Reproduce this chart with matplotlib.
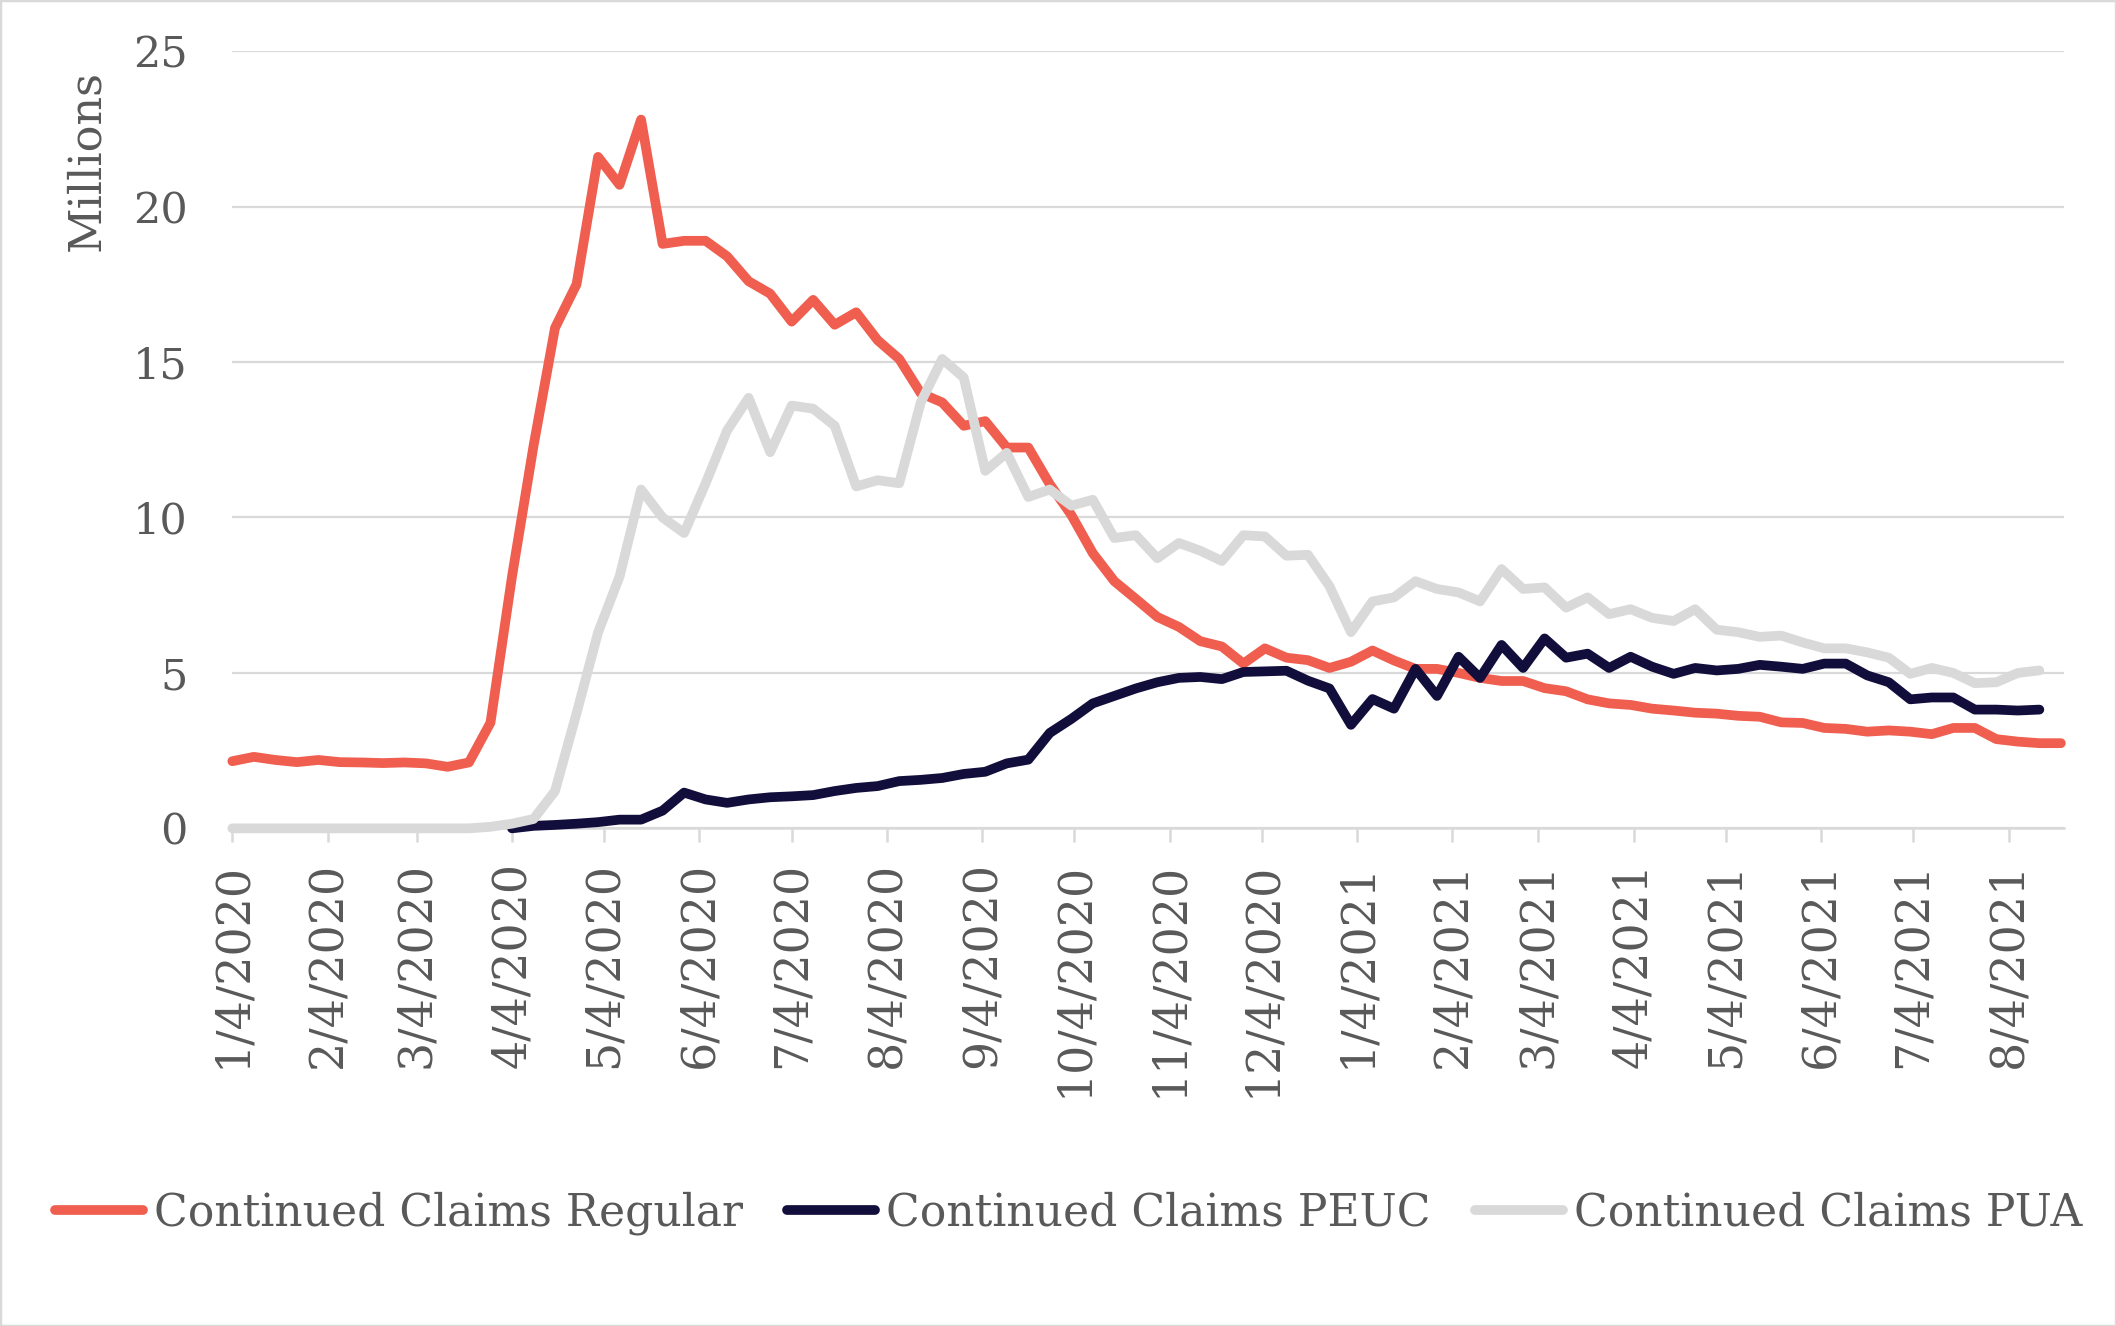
import numpy as np
import pandas as pd
import matplotlib
matplotlib.use("Agg")
import matplotlib.pyplot as plt
from matplotlib.patches import Rectangle

# ==============================
# 1. DATA (millions, weekly from 1/4/2020)
# ==============================
start_date = "2020-01-04"
n_weeks = 86

regular = [
    2.16, 2.30, 2.20, 2.13, 2.20, 2.13, 2.12, 2.10, 2.12, 2.09,
    1.98, 2.12, 3.40, 8.10, 12.30, 16.10, 17.50, 21.60, 20.70, 22.80,
    18.80, 18.90, 18.90, 18.40, 17.60, 17.20, 16.30, 17.00, 16.20, 16.60,
    15.70, 15.10, 14.00, 13.70, 12.95, 13.10, 12.25, 12.25, 11.07, 10.08,
    8.85, 7.95, 7.38, 6.80, 6.48, 6.02, 5.85, 5.30, 5.79, 5.49,
    5.41, 5.16, 5.36, 5.72, 5.40, 5.13, 5.13, 5.00, 4.84, 4.74,
    4.74, 4.51, 4.41, 4.15, 4.02, 3.97, 3.85, 3.79, 3.72, 3.69,
    3.62, 3.59, 3.41, 3.39, 3.23, 3.20, 3.11, 3.15, 3.11, 3.03,
    3.23, 3.23, 2.87, 2.79, 2.74, 2.74,
]

peuc = [np.nan] * 13 + [
    0.00, 0.08, 0.11, 0.15, 0.20, 0.28, 0.28, 0.57, 1.15, 0.93,
    0.82, 0.93, 1.00, 1.03, 1.07, 1.20, 1.30, 1.36, 1.52, 1.56,
    1.62, 1.75, 1.82, 2.09, 2.21, 3.07, 3.52, 4.02, 4.26, 4.50,
    4.70, 4.84, 4.87, 4.80, 5.03, 5.05, 5.07, 4.75, 4.50, 3.33,
    4.16, 3.85, 5.13, 4.26, 5.52, 4.84, 5.90, 5.16, 6.11, 5.49,
    5.62, 5.16, 5.52, 5.20, 4.97, 5.16, 5.08, 5.13, 5.26, 5.20,
    5.13, 5.30, 5.30, 4.92, 4.70, 4.15, 4.21, 4.21, 3.82, 3.82,
    3.79, 3.82,
] + [np.nan]

pua = [0.0] * 12 + [
    0.05, 0.15, 0.30, 1.20, 3.70, 6.30, 8.10, 10.90, 10.00, 9.50,
    11.10, 12.80, 13.85, 12.10, 13.60, 13.50, 12.95, 11.00, 11.20, 11.10,
    13.70, 15.10, 14.50, 11.50, 12.08, 10.66, 10.90, 10.38, 10.57, 9.34,
    9.43, 8.69, 9.18, 8.93, 8.60, 9.43, 9.39, 8.77, 8.80, 7.79,
    6.31, 7.30, 7.43, 7.95, 7.70, 7.59, 7.30, 8.34, 7.70, 7.75,
    7.10, 7.43, 6.89, 7.05, 6.77, 6.67, 7.05, 6.39, 6.31, 6.16,
    6.20, 5.98, 5.79, 5.79, 5.66, 5.49, 4.97, 5.16, 5.00, 4.67,
    4.70, 5.00, 5.08,
] + [np.nan]

labels = [
    "Continued Claims Regular",
    "Continued Claims PEUC",
    "Continued Claims PUA",
]
colors = ["#EF5E4F", "#120E3B", "#D9D9D9"]

dates = pd.date_range(start_date, periods=n_weeks, freq="7D")
month_ticks = pd.date_range("2020-01-01", "2021-08-01", freq="MS") + pd.Timedelta(days=3)
tick_labels = [f"{d.month}/{d.day}/{d.year}" for d in month_ticks]

# ==============================
# 2. PLOT
# ==============================
text_color = "#595959"
grid_color = "#D9D9D9"
plt.rcParams["font.family"] = ["DejaVu Serif"]

fig = plt.figure(figsize=(21.16, 13.26), dpi=100)
ax = fig.add_axes([0.1098, 0.3753, 0.8656, 0.5861])

series = [regular, peuc, pua]
handles = []
for i, (vals, lab, col) in enumerate(zip(series, labels, colors)):
    (ln,) = ax.plot(
        dates, vals, color=col, linewidth=7, label=lab,
        solid_capstyle="round", solid_joinstyle="round",
        zorder=3 + i, clip_on=False,
    )
    handles.append(ln)

ax.set_ylim(0, 25)
ax.set_yticks(range(0, 26, 5))
ax.set_xlim(pd.Timestamp("2020-01-04"), pd.Timestamp("2021-08-22"))
ax.set_xticks(month_ticks)
ax.set_xticklabels(tick_labels, rotation=90, ha="center", va="top")

ax.grid(axis="y", color=grid_color, linewidth=1.6)
ax.set_axisbelow(True)
for side in ["left", "top", "right"]:
    ax.spines[side].set_visible(False)
ax.spines["bottom"].set_color(grid_color)
ax.spines["bottom"].set_linewidth(1.8)

ax.tick_params(axis="y", length=0, pad=32, labelsize=31, labelcolor=text_color)
ax.tick_params(axis="x", length=10, width=1.8, color=grid_color,
               pad=14, labelsize=33, labelcolor=text_color)

fig.text(0.0411, 0.8793, "Millions", rotation=90, ha="center", va="center",
         fontsize=32, color=text_color)

leg = fig.legend(handles, labels, loc="center", bbox_to_anchor=(0.505, 0.085),
                 ncol=3, frameon=False, fontsize=31.7, handlelength=2.0,
                 handletextpad=0.25, columnspacing=1.0)
for t in leg.get_texts():
    t.set_color(text_color)

fig.patches.append(Rectangle((0, 0), 1, 1, transform=fig.transFigure,
                             fill=False, edgecolor=grid_color, linewidth=2.5))

fig.savefig("out.png", dpi=100, facecolor="white")
plt.close(fig)
print("Saved out.png")
